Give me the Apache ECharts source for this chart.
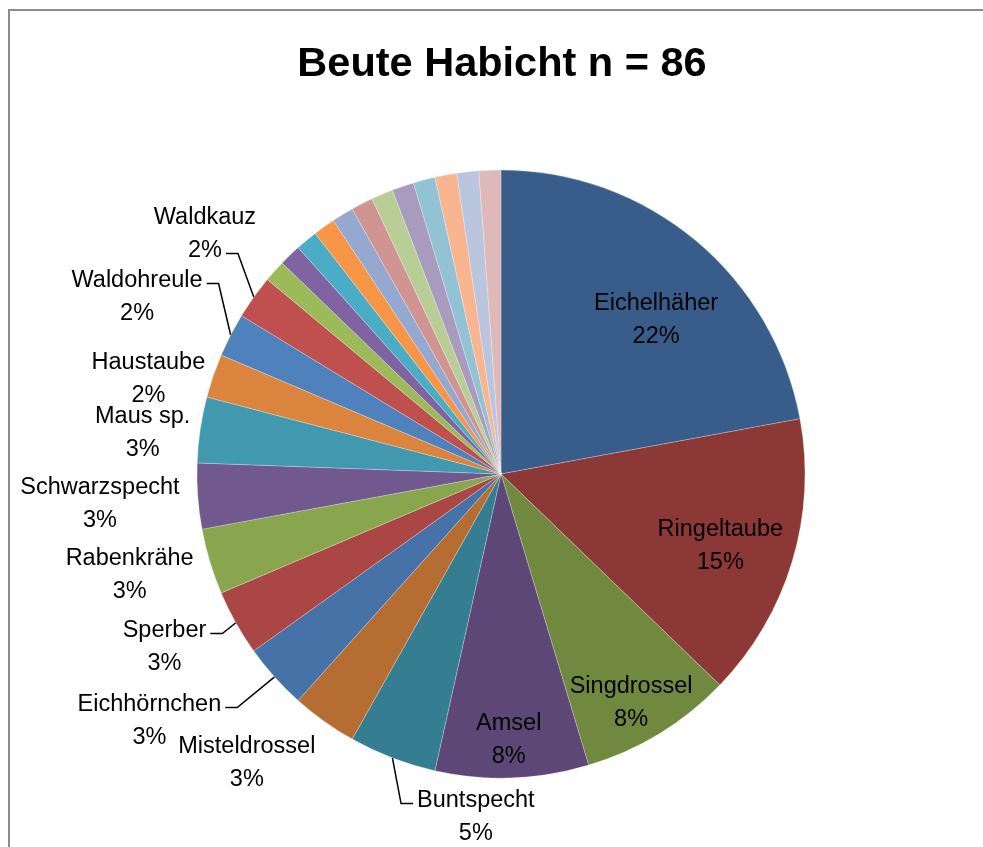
<!DOCTYPE html>
<html>
<head>
<meta charset="utf-8">
<script src="https://cdn.jsdelivr.net/npm/echarts@6/dist/echarts.min.js"></script>
<style>
  html, body { margin: 0; padding: 0; background: #fff; }
  #main { width: 983px; height: 847px; }
</style>
</head>
<body>
<div id="main"></div>
<script>
// Beute Habicht, n = 86 (Anzahl je Art)
var names = ['Eichelhäher', 'Ringeltaube', 'Singdrossel', 'Amsel', 'Buntspecht', 'Misteldrossel',
    'Eichhörnchen', 'Sperber', 'Rabenkrähe', 'Schwarzspecht', 'Maus sp.', 'Haustaube',
    'Waldohreule', 'Waldkauz', '', '', '', '', '', '', '', '', '', '', '', ''];
var counts = [19, 13, 7, 7, 4, 3, 3, 3, 3, 3, 3, 2, 2, 2, 1, 1, 1, 1, 1, 1, 1, 1, 1, 1, 1, 1];

// Excel-2007-Palette
var colors = ['#385D8A', '#8C3836', '#71893F', '#5C4776', '#357D91', '#B66D31',
    '#4572A7', '#AA4643', '#89A54E', '#71588F', '#4198AF', '#DB843D',
    '#4F81BD', '#C0504D', '#9BBB59', '#8064A2', '#4BACC6', '#F79646',
    '#95A9D0', '#D09493', '#B9CD96', '#A99BBD', '#92C3D5', '#F9B590',
    '#BAC5DE', '#DFB9B9'];

// Beschriftung: [Winkelversatz in Grad, Abstand vom Mittelpunkt in px]
var labelPlace = [[4.8, 221], [0.8, 230], [1.5, 261], [0.4, 263], [-16.7, 341], [6, 383],
    [7.1, 428], [2.5, 377], [2, 384], [0.3, 402], [-1.4, 361], [-3.3, 366],
    [-0.9, 406], [3.8, 383]];
// Führungslinien: an welcher Textzeile sie ansetzen
var lineAt = { 4: 0, 6: 0, 7: 0, 12: 0, 13: 1 };

var cx = 501, cy = 474, R = 304;
var FONT = '"Liberation Sans", Arial, sans-serif';
var FS = 23.5, LH = 33;
var total = counts.reduce(function(a, b) { return a + b; }, 0);
var insideIdx = [0, 1, 2, 3];

function pct(v) { return Math.round(v / total * 100) + '%'; }

// Mittelwinkel je Segment (von oben, im Uhrzeigersinn)
var midAngle = [];
var cum = 0;
counts.forEach(function(v) {
    midAngle.push((cum + v / 2) / total * 360);
    cum += v;
});

var ctx = document.createElement('canvas').getContext('2d');
ctx.font = FS + 'px ' + FONT;
function textW(s) { return ctx.measureText(s).width; }

var data = counts.map(function(v, i) {
    var item = {
        name: names[i],
        value: v,
        itemStyle: { color: colors[i] }
    };
    if (!names[i]) {
        item.label = { show: false };
        item.labelLine = { show: false };
    } else if (insideIdx.indexOf(i) >= 0) {
        item.label = { position: 'inside' };
    } else if (lineAt[i] === undefined) {
        item.labelLine = { show: false };
    }
    return item;
});

var chart = echarts.init(document.getElementById('main'));
chart.setOption({
    backgroundColor: '#fff',
    animation: false,
    title: {
        text: 'Beute Habicht n = 86',
        left: 497,
        textAlign: 'center',
        top: 39,
        textStyle: {
            fontFamily: FONT,
            fontSize: 41.5,
            fontWeight: 'bold',
            color: '#000'
        }
    },
    graphic: [{
        type: 'rect',
        shape: { x: 9, y: 10, width: 1000, height: 900 },
        style: { fill: 'none', stroke: '#8c8c8c', lineWidth: 2 },
        silent: true
    }],
    series: [{
        type: 'pie',
        center: [cx, cy],
        radius: [0, R],
        startAngle: 90,
        clockwise: true,
        avoidLabelOverlap: false,
        itemStyle: { borderColor: 'rgba(255,255,255,0.5)', borderWidth: 0.5 },
        label: {
            show: true,
            color: '#000',
            fontFamily: FONT,
            fontSize: FS,
            lineHeight: LH,
            formatter: function(p) {
                return p.name + '\n' + pct(p.value);
            }
        },
        labelLine: {
            length: 10,
            length2: 12,
            lineStyle: { color: '#000', width: 1.5 }
        },
        labelLayout: function(p) {
            var i = p.dataIndex;
            var pl = labelPlace[i];
            if (!pl) return {};
            var a = (midAngle[i] + pl[0]) * Math.PI / 180;
            var x = cx + pl[1] * Math.sin(a);
            var y = cy - pl[1] * Math.cos(a) + 3;
            var res = { x: x, y: y, align: 'center', verticalAlign: 'middle' };
            if (lineAt[i] !== undefined) {
                var m = midAngle[i] * Math.PI / 180;
                var ax = cx + R * Math.sin(m), ay = cy - R * Math.cos(m);
                var line = lineAt[i] === 0 ? names[i] : pct(counts[i]);
                var half = textW(line) / 2;
                var ly = y + (lineAt[i] === 0 ? -LH / 2 : LH / 2) + 3;
                var dir = ax > x ? 1 : -1;
                var ex = x + dir * (half + 4);
                res.labelLinePoints = [[ax, ay], [ex + dir * 12, ly], [ex, ly]];
            }
            return res;
        },
        data: data
    }]
});
</script>
</body>
</html>
